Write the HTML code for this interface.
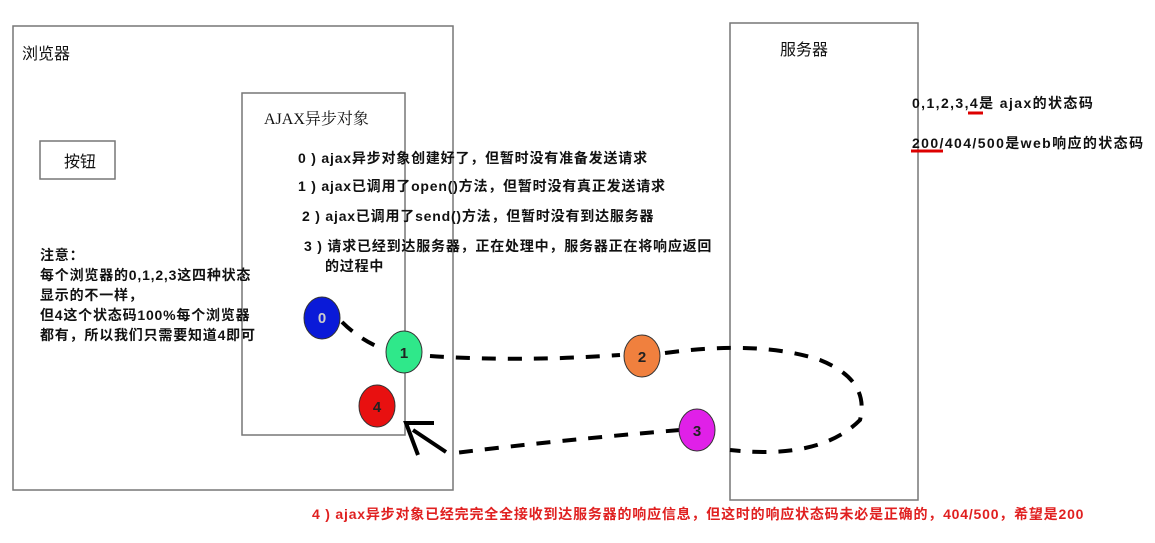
<!DOCTYPE html>
<html><head><meta charset="utf-8"><style>
html,body{margin:0;padding:0;background:#fff;}
body{width:1155px;height:543px;position:relative;overflow:hidden;font-family:"Liberation Sans","Noto Sans CJK SC",sans-serif;}
.t{position:absolute;white-space:nowrap;color:#111;font-size:14px;letter-spacing:0.8px;font-weight:bold;}
</style></head><body>
<svg width="1155" height="543" style="position:absolute;left:0;top:0">
<g fill="none" stroke="#777" stroke-width="1.5">
<rect x="13" y="26" width="440" height="464"/>
<rect x="242" y="93" width="163" height="342"/>
<rect x="40" y="141" width="75" height="38"/>
<rect x="730" y="23" width="188" height="477"/>
</g>
<g fill="none" stroke="#000" stroke-width="4" stroke-dasharray="14,12">
<path d="M342 322 Q360 340 385 350"/>
<path d="M430 356 Q520 362 620 355"/>
<path d="M665 353 Q760 340 820 360 Q870 380 860 420 Q820 460 730 450"/>
<path d="M680 430 Q560 440 455 453"/>
</g>
<g stroke="#000" stroke-width="4" fill="none"><path d="M434 423 L406 423 L418 455 M413 430 L446 452"/></g>
<g stroke="#333" stroke-width="1">
<ellipse cx="322" cy="318" rx="18" ry="21" fill="#0a1ad8"/>
<ellipse cx="404" cy="352" rx="18" ry="21" fill="#2fe88a"/>
<ellipse cx="642" cy="356" rx="18" ry="21" fill="#f0803e"/>
<ellipse cx="697" cy="430" rx="18" ry="21" fill="#e020e8"/>
<ellipse cx="377" cy="406" rx="18" ry="21" fill="#e81010"/>
</g>
<g font-family="Liberation Sans,sans-serif" font-weight="bold" font-size="15" text-anchor="middle" fill="#222">
<text x="322" y="323" fill="#ccc">0</text><text x="404" y="358">1</text><text x="642" y="362">2</text><text x="697" y="436">3</text><text x="377" y="412">4</text>
</g>
<g stroke="#d00" stroke-width="3"><line x1="968" y1="113" x2="983" y2="113"/><line x1="911" y1="151" x2="943" y2="151"/></g>
</svg>
<div class="t" style="left:22px;top:40px;font-size:16px;font-weight:normal;letter-spacing:0">浏览器</div>
<div class="t" style="left:64px;top:148px;font-size:16px;font-weight:normal;letter-spacing:0">按钮</div>
<div class="t" style="left:264px;top:106px;font-size:16px;font-weight:normal;letter-spacing:0;font-family:'Liberation Serif','Noto Serif CJK SC',serif">AJAX异步对象</div>
<div class="t" style="left:780px;top:36px;font-size:16px;font-weight:normal;letter-spacing:0">服务器</div>
<div class="t" style="left:298px;top:148px">0 ) ajax异步对象创建好了，但暂时没有准备发送请求</div>
<div class="t" style="left:298px;top:176px">1 ) ajax已调用了open()方法，但暂时没有真正发送请求</div>
<div class="t" style="left:302px;top:206px">2 ) ajax已调用了send()方法，但暂时没有到达服务器</div>
<div class="t" style="left:304px;top:236px">3 ) 请求已经到达服务器，正在处理中，服务器正在将响应返回</div>
<div class="t" style="left:325px;top:256px">的过程中</div>
<div class="t" style="left:40px;top:245px;line-height:20px">注意：<br>每个浏览器的0,1,2,3这四种状态<br>显示的不一样，<br>但4这个状态码100%每个浏览器<br>都有，所以我们只需要知道4即可</div>
<div class="t" style="left:912px;top:93px;letter-spacing:1.4px">0,1,2,3,4是 ajax的状态码</div>
<div class="t" style="left:912px;top:133px;letter-spacing:1.4px">200/404/500是web响应的状态码</div>
<div class="t" style="left:312px;top:504px;color:#e02020">4 ) ajax异步对象已经完完全全接收到达服务器的响应信息，但这时的响应状态码未必是正确的，404/500，希望是200</div>
</body></html>
